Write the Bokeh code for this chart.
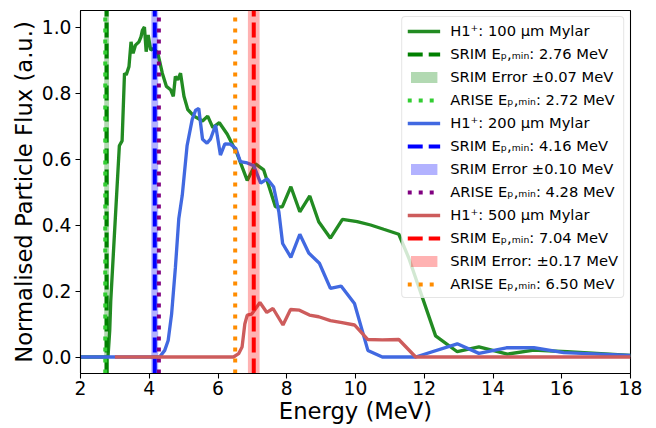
from bokeh.plotting import figure
from bokeh.models import Range1d, FixedTicker, PrintfTickFormatter
from bokeh.embed import file_html
from bokeh.resources import INLINE

# ---- data -----------------------------------------------------------------
x_100 = [2.0, 2.80, 2.85, 2.88, 3.13, 3.21, 3.28, 3.33, 3.41, 3.47, 3.53, 3.60, 3.70,
         3.76, 3.80, 3.86, 3.91, 3.97, 4.04, 4.13, 4.25, 4.38, 4.50, 4.62, 4.70, 4.76,
         4.83, 4.91, 5.01, 5.12, 5.30, 5.55, 5.70, 5.85, 6.04, 6.27, 6.56, 6.85, 7.09,
         7.33, 7.67, 7.87, 8.12, 8.38, 8.67, 8.93, 9.27, 9.62, 10.05, 10.44, 10.82,
         11.26, 11.55, 12.33, 12.96, 13.59, 14.42, 15.19, 16.16, 18.0]
y_100 = [0.0, 0.0, 0.08, 0.17, 0.64, 0.655, 0.86, 0.855, 0.88, 0.955, 0.92, 0.945, 0.955,
         0.97, 0.99, 1.0, 0.925, 0.976, 0.93, 0.935, 0.92, 0.86, 0.82, 0.81, 0.79, 0.85,
         0.84, 0.86, 0.79, 0.75, 0.73, 0.715, 0.73, 0.695, 0.71, 0.675, 0.615, 0.535, 0.585,
         0.567, 0.455, 0.455, 0.516, 0.44, 0.488, 0.41, 0.36, 0.417, 0.41, 0.40, 0.387,
         0.372, 0.30, 0.064, 0.016, 0.031, 0.009, 0.021, 0.016, 0.005]

x_200 = [2.0, 4.30, 4.45, 4.55, 4.65, 4.76, 4.86, 4.96, 5.10, 5.25, 5.35, 5.44, 5.55,
         5.68, 5.78, 5.93, 6.07, 6.20, 6.36, 6.52, 6.65, 6.85, 7.04, 7.24, 7.43, 7.62,
         7.77, 7.88, 8.12, 8.38, 8.64, 8.95, 9.27, 9.58, 9.97, 10.36, 10.78, 11.75,
         12.96, 13.59, 14.39, 15.19, 16.06, 18.0]
y_200 = [0.0, 0.0, 0.02, 0.05, 0.13, 0.27, 0.42, 0.49, 0.64, 0.72, 0.748, 0.753, 0.66,
         0.648, 0.66, 0.703, 0.612, 0.646, 0.645, 0.632, 0.592, 0.588, 0.58, 0.527, 0.54,
         0.515, 0.44, 0.344, 0.302, 0.372, 0.315, 0.284, 0.208, 0.215, 0.162, 0.02, 0.0,
         0.0, 0.04, 0.011, 0.028, 0.028, 0.013, 0.005]

x_500 = [3.0, 6.45, 6.60, 6.70, 6.78, 6.85, 6.98, 7.22, 7.42, 7.60, 7.89, 8.11, 8.37,
         8.66, 8.93, 9.27, 9.61, 9.97, 10.36, 10.78, 11.26, 11.75, 18.0]
y_500 = [0.0, 0.0, 0.01, 0.03, 0.10, 0.127, 0.13, 0.165, 0.135, 0.147, 0.097, 0.144,
         0.142, 0.127, 0.122, 0.11, 0.104, 0.097, 0.053, 0.052, 0.053, 0.0, 0.0]

thickness = ["100", "200", "500"]
srim_e = [2.76, 4.16, 7.04]
srim_err = [0.07, 0.10, 0.17]
arise_e = [2.72, 4.28, 6.50]
err_sep = ["", "", ":"]

x_ticks = [2, 4, 6, 8, 10, 12, 14, 16, 18]
y_ticks = [0.0, 0.2, 0.4, 0.6, 0.8, 1.0]
x_lim = (2, 18)
y_lim = (-0.05, 1.05)

curve_colors = ["forestgreen", "royalblue", "indianred"]
srim_colors = ["green", "blue", "red"]
arise_colors = ["limegreen", "purple", "darkorange"]

FONT = "DejaVu Sans"
SUB = "E\u209a,\u2098\u1d62\u2099"

# ---- figure -----------------------------------------------------------------
p = figure(width=650, height=428, output_backend="svg", toolbar_location=None,
           x_range=Range1d(*x_lim), y_range=Range1d(*y_lim),
           min_border_left=80, min_border_right=20, min_border_top=10,
           min_border_bottom=55)
p.title.visible = False
p.xgrid.visible = False
p.ygrid.visible = False
p.outline_line_color = "black"
p.outline_line_width = 1.07

curves = [(x_100, y_100), (x_200, y_200), (x_500, y_500)]
for i in range(3):
    xs, ys = curves[i]
    p.line(xs, ys, line_color=curve_colors[i], line_width=3.33,
           legend_label=f"H1\u207a: {thickness[i]} \u00b5m Mylar")
    p.segment(x0=[srim_e[i]], y0=[y_lim[0]], x1=[srim_e[i]], y1=[y_lim[1]],
              line_color=srim_colors[i], line_width=4, line_dash="15 6",
              legend_label=f"SRIM {SUB}: {srim_e[i]:.2f} MeV")
    p.quad(left=[srim_e[i] - srim_err[i]], right=[srim_e[i] + srim_err[i]],
           bottom=[y_lim[0]], top=[y_lim[1]], fill_color=srim_colors[i],
           fill_alpha=0.3, line_color=None,
           legend_label=f"SRIM Error{err_sep[i]} \u00b1{srim_err[i]:.2f} MeV")
    p.segment(x0=[arise_e[i]], y0=[y_lim[0]], x1=[arise_e[i]], y1=[y_lim[1]],
              line_color=arise_colors[i], line_width=4, line_dash="4 7",
              legend_label=f"ARISE {SUB}: {arise_e[i]:.2f} MeV")

# ---- axes -----------------------------------------------------------------
p.xaxis.ticker = FixedTicker(ticks=x_ticks)
p.yaxis.ticker = FixedTicker(ticks=y_ticks)
p.xaxis.formatter = PrintfTickFormatter(format="%d")
p.yaxis.formatter = PrintfTickFormatter(format="%.1f")
p.xaxis.axis_label = "Energy (MeV)"
p.yaxis.axis_label = "Normalised Particle Flux (a.u.)"
for ax in (p.xaxis, p.yaxis):
    ax.axis_label_text_font = FONT
    ax.axis_label_text_font_size = "22.7px"
    ax.axis_label_text_font_style = "normal"
    ax.axis_label_text_color = "black"
    ax.major_label_text_font = FONT
    ax.major_label_text_font_size = "18.7px"
    ax.major_label_text_color = "black"
    ax.axis_line_color = "black"
    ax.axis_line_width = 1.07
    ax.major_tick_line_color = "black"
    ax.major_tick_line_width = 1.07
    ax.major_tick_out = 5
    ax.major_tick_in = 0
    ax.minor_tick_line_color = None
p.xaxis.major_label_standoff = 2
p.xaxis.axis_label_standoff = 0
p.yaxis.major_label_standoff = 4
p.yaxis.axis_label_standoff = 2

# ---- legend -----------------------------------------------------------------
lg = p.legend[0]
lg.location = "top_right"
lg.margin = 6
lg.padding = 5
lg.spacing = 6
lg.glyph_width = 33
lg.glyph_height = 14
lg.label_height = 17
lg.label_standoff = 10
lg.label_text_font = FONT
lg.label_text_font_size = "14.7px"
lg.label_text_color = "black"
lg.border_line_color = "#cccccc"
lg.border_line_width = 1
lg.background_fill_alpha = 0.8
if "border_radius" in lg.properties():
    lg.border_radius = 4

open("out.html", "w").write(file_html(p, INLINE))
